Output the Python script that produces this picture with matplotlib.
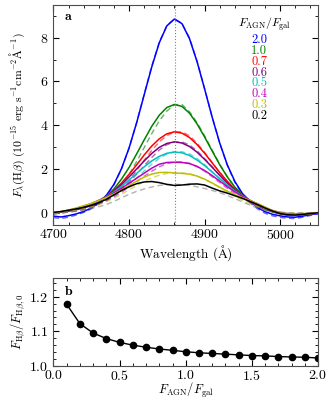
import numpy as np
import matplotlib
matplotlib.use("Agg")
import matplotlib.pyplot as plt
from matplotlib.ticker import MultipleLocator

plt.rcParams['font.family'] = 'serif'
plt.rcParams['font.serif'] = ['cmr10', 'DejaVu Serif']
plt.rcParams['mathtext.fontset'] = 'cm'
plt.rcParams['axes.formatter.use_mathtext'] = True
plt.rcParams['font.size'] = 9

# wavelength grid of the profiles (Angstrom)
wave = np.array([4700, 4710, 4720, 4730, 4740, 4750, 4760, 4770, 4780, 4790,
                 4800, 4810, 4820, 4830, 4840, 4850, 4860, 4870, 4880, 4890,
                 4900, 4910, 4920, 4930, 4940, 4950, 4960, 4970, 4980, 4990,
                 5000, 5010, 5020, 5030, 5040, 5050])

labels = ['2.0', '1.0', '0.7', '0.6', '0.5', '0.4', '0.3', '0.2']
colors = ['b', 'g', 'r', 'purple', 'c', 'm', 'y', 'k']
dash_colors = ['b', 'g', 'r', 'purple', 'c', 'm', 'y', 'gray']

# solid: measured profiles
f20 = [-0.15, -0.19, -0.13, -0.05, 0.06, 0.22, 0.47, 0.80, 1.30, 2.02, 2.96, 4.11, 5.39, 6.66, 7.77, 8.54, 8.85, 8.64,
       7.95, 6.90, 5.65, 4.36, 3.18, 2.19, 1.43, 0.88, 0.53, 0.24, 0.05, -0.07, -0.14, -0.19, -0.20, -0.15, -0.08, -0.03]
f10 = [-0.02, 0.03, 0.08, 0.14, 0.22, 0.34, 0.53, 0.76, 1.09, 1.54, 2.07, 2.69, 3.33, 3.95, 4.46, 4.81, 4.95, 4.86,
       4.55, 4.06, 3.46, 2.82, 2.19, 1.64, 1.17, 0.82, 0.54, 0.33, 0.16, 0.04, -0.05, -0.10, -0.11, -0.09, -0.04, 0.0]
f07 = [-0.02, 0.03, 0.09, 0.16, 0.25, 0.36, 0.55, 0.74, 1.02, 1.36, 1.76, 2.19, 2.64, 3.05, 3.38, 3.61, 3.70, 3.64,
       3.44, 3.12, 2.72, 2.28, 1.84, 1.44, 1.08, 0.79, 0.55, 0.35, 0.19, 0.06, -0.04, -0.09, -0.10, -0.08, -0.04, 0.0]
f06 = [-0.01, 0.04, 0.10, 0.17, 0.27, 0.38, 0.55, 0.74, 0.99, 1.29, 1.64, 2.00, 2.37, 2.71, 2.99, 3.17, 3.24, 3.19,
       3.03, 2.77, 2.44, 2.08, 1.71, 1.36, 1.05, 0.79, 0.56, 0.37, 0.21, 0.07, -0.03, -0.09, -0.10, -0.08, -0.04, 0.0]
f05 = [0.0, 0.05, 0.11, 0.19, 0.29, 0.40, 0.56, 0.73, 0.95, 1.21, 1.50, 1.80, 2.10, 2.37, 2.58, 2.72, 2.78, 2.74,
       2.62, 2.41, 2.16, 1.86, 1.56, 1.27, 1.00, 0.77, 0.56, 0.39, 0.23, 0.08, -0.02, -0.08, -0.09, -0.07, -0.03, 0.0]
f04 = [0.0, 0.05, 0.12, 0.20, 0.31, 0.42, 0.57, 0.72, 0.91, 1.12, 1.35, 1.58, 1.81, 2.04, 2.22, 2.30, 2.31, 2.30,
       2.25, 2.12, 1.93, 1.70, 1.45, 1.19, 0.96, 0.75, 0.57, 0.41, 0.25, 0.09, -0.02, -0.08, -0.09, -0.07, -0.03, 0.0]
f03 = [0.01, 0.06, 0.13, 0.22, 0.32, 0.43, 0.56, 0.70, 0.86, 1.04, 1.24, 1.45, 1.63, 1.77, 1.84, 1.85, 1.82, 1.80,
       1.77, 1.68, 1.54, 1.36, 1.17, 0.99, 0.83, 0.69, 0.56, 0.42, 0.26, 0.10, -0.01, -0.08, -0.09, -0.07, -0.03, 0.0]
f02 = [0.02, 0.06, 0.12, 0.18, 0.25, 0.34, 0.46, 0.62, 0.82, 1.02, 1.19, 1.33, 1.41, 1.43, 1.38, 1.30, 1.25, 1.27,
       1.31, 1.32, 1.27, 1.13, 1.00, 0.90, 0.78, 0.66, 0.52, 0.38, 0.22, 0.08, -0.03, -0.09, -0.10, -0.07, -0.03, 0.0]

# dashed: model profiles
m20 = [-0.22, -0.26, -0.20, -0.10, 0.02, 0.18, 0.43, 0.78, 1.28, 2.00, 2.95, 4.12, 5.42, 6.70, 7.80, 8.56, 8.86, 8.66,
       7.98, 6.92, 5.66, 4.37, 3.17, 2.16, 1.39, 0.83, 0.46, 0.18, -0.02, -0.14, -0.21, -0.25, -0.26, -0.20, -0.12, -0.05]
m10 = [-0.05, -0.01, 0.04, 0.09, 0.15, 0.25, 0.40, 0.60, 0.88, 1.26, 1.75, 2.34, 2.98, 3.62, 4.20, 4.65, 4.93, 4.95,
       4.62, 4.12, 3.52, 2.86, 2.22, 1.65, 1.16, 0.78, 0.48, 0.28, 0.13, 0.04, -0.02, -0.06, -0.07, -0.06, -0.03, 0.0]
m07 = [-0.04, 0.0, 0.05, 0.10, 0.17, 0.26, 0.40, 0.58, 0.82, 1.12, 1.50, 1.93, 2.40, 2.85, 3.24, 3.53, 3.69, 3.70,
       3.52, 3.18, 2.76, 2.30, 1.84, 1.42, 1.05, 0.74, 0.49, 0.30, 0.16, 0.07, 0.01, -0.03, -0.05, -0.04, -0.02, 0.0]
m06 = [-0.04, 0.0, 0.05, 0.11, 0.18, 0.27, 0.40, 0.57, 0.80, 1.07, 1.40, 1.76, 2.15, 2.53, 2.87, 3.11, 3.23, 3.24,
       3.10, 2.83, 2.48, 2.10, 1.71, 1.34, 1.01, 0.73, 0.50, 0.32, 0.18, 0.08, 0.02, -0.03, -0.05, -0.04, -0.02, 0.0]
m05 = [-0.03, 0.01, 0.06, 0.12, 0.19, 0.28, 0.41, 0.57, 0.77, 1.01, 1.29, 1.59, 1.91, 2.22, 2.49, 2.68, 2.78, 2.79,
       2.69, 2.48, 2.20, 1.88, 1.55, 1.23, 0.95, 0.70, 0.49, 0.33, 0.20, 0.09, 0.02, -0.03, -0.04, -0.03, -0.02, 0.0]
m04 = [-0.03, 0.01, 0.06, 0.13, 0.20, 0.29, 0.41, 0.55, 0.73, 0.94, 1.17, 1.42, 1.67, 1.90, 2.10, 2.25, 2.32, 2.33,
       2.26, 2.11, 1.90, 1.65, 1.38, 1.12, 0.88, 0.66, 0.48, 0.33, 0.21, 0.11, 0.03, -0.02, -0.03, -0.03, -0.01, 0.0]
m03 = [-0.03, 0.01, 0.06, 0.12, 0.19, 0.27, 0.38, 0.51, 0.67, 0.85, 1.05, 1.25, 1.44, 1.60, 1.72, 1.80, 1.83, 1.83,
       1.78, 1.67, 1.52, 1.35, 1.15, 0.95, 0.76, 0.58, 0.42, 0.29, 0.18, 0.10, 0.04, 0.0, -0.01, -0.01, 0.0, 0.0]
m02 = [-0.02, 0.0, 0.03, 0.07, 0.13, 0.20, 0.28, 0.38, 0.52, 0.69, 0.84, 0.98, 1.09, 1.18, 1.25, 1.29, 1.30, 1.29,
       1.25, 1.19, 1.11, 1.02, 0.92, 0.79, 0.65, 0.50, 0.35, 0.22, 0.12, 0.05, 0.01, -0.01, -0.01, 0.0, 0.01, 0.01]

solids = [f20, f10, f07, f06, f05, f04, f03, f02]
models = [m20, m10, m07, m06, m05, m04, m03, m02]

# panel b
ratio = [0.1, 0.2, 0.3, 0.4, 0.5, 0.6, 0.7, 0.8, 0.9, 1.0,
         1.1, 1.2, 1.3, 1.4, 1.5, 1.6, 1.7, 1.8, 1.9, 2.0]
hb_ratio = [1.178, 1.122, 1.095, 1.079, 1.068, 1.060, 1.054, 1.049, 1.045, 1.041,
            1.038, 1.036, 1.034, 1.032, 1.030, 1.029, 1.027, 1.026, 1.025, 1.023]

fig = plt.figure(figsize=(3.32, 4.03), dpi=100)
ax1 = fig.add_axes([0.161, 0.442, 0.797, 0.546])
ax2 = fig.add_axes([0.161, 0.092, 0.797, 0.219])

for f, m, c, dc in zip(solids, models, colors, dash_colors):
    ax1.plot(wave, m, ls='--', color=dc, lw=1.0, alpha=0.6, dashes=(4, 2.5))
    ax1.plot(wave, f, color=c, lw=1.1)
ax1.axvline(4861, color='gray', ls=':', lw=0.8)

ax1.set_xlim(4700, 5050)
ax1.set_ylim(-0.55, 9.5)
ax1.xaxis.set_major_locator(MultipleLocator(100))
ax1.xaxis.set_minor_locator(MultipleLocator(20))
ax1.yaxis.set_major_locator(MultipleLocator(2))
ax1.yaxis.set_minor_locator(MultipleLocator(1))
ax1.set_xlabel(r'Wavelength $(\mathrm{\AA})$', fontsize=9.5)
ax1.xaxis.set_label_coords(0.5, -0.085)
ax1.set_ylabel(r'$F_\lambda(\mathrm{H}\beta)\ (10^{-15}\ \mathrm{erg\ s^{-1}cm^{-2}\AA^{-1}})$', fontsize=8.5)
ax1.yaxis.set_label_coords(-0.10, 0.5)
ax1.text(0.04, 0.93, r'$\mathbf{a}$', transform=ax1.transAxes, fontsize=10)

# legend as coloured text
ax1.text(0.796, 0.914, r'$F_{\rm AGN}/F_{\rm gal}$', transform=ax1.transAxes,
         ha='center', va='center', fontsize=8.5)
for i, (lab, c) in enumerate(zip(labels, colors)):
    ax1.text(0.777, 0.841 - i * 0.0495, lab, color=c, transform=ax1.transAxes,
             ha='center', va='center', fontsize=9)

ax2.plot(ratio, hb_ratio, 'o-', color='k', ms=4.5, lw=1.0)
ax2.set_xlim(0, 2.0)
ax2.set_ylim(1.0, 1.255)
ax2.xaxis.set_major_locator(MultipleLocator(0.5))
ax2.xaxis.set_minor_locator(MultipleLocator(0.1))
ax2.yaxis.set_major_locator(MultipleLocator(0.1))
ax2.yaxis.set_minor_locator(MultipleLocator(0.02))
ax2.set_xlabel(r'$F_{\rm AGN}/F_{\rm gal}$', fontsize=9)
ax2.xaxis.set_label_coords(0.5, -0.17)
ax2.set_ylabel(r'$F_{\mathrm{H}\beta}/F_{\mathrm{H}\beta,0}$', fontsize=9)
ax2.yaxis.set_label_coords(-0.10, 0.5)
ax2.text(0.04, 0.8, r'$\mathbf{b}$', transform=ax2.transAxes, fontsize=10)

for ax in (ax1, ax2):
    ax.tick_params(which='both', direction='in', top=True, right=True, labelsize=10)
    ax.tick_params(axis='x', which='major', pad=2.5)
    ax.tick_params(which='major', length=4)
    ax.tick_params(which='minor', length=2)
    for s in ax.spines.values():
        s.set_color('0.3')

fig.savefig('out.png', dpi=100)
